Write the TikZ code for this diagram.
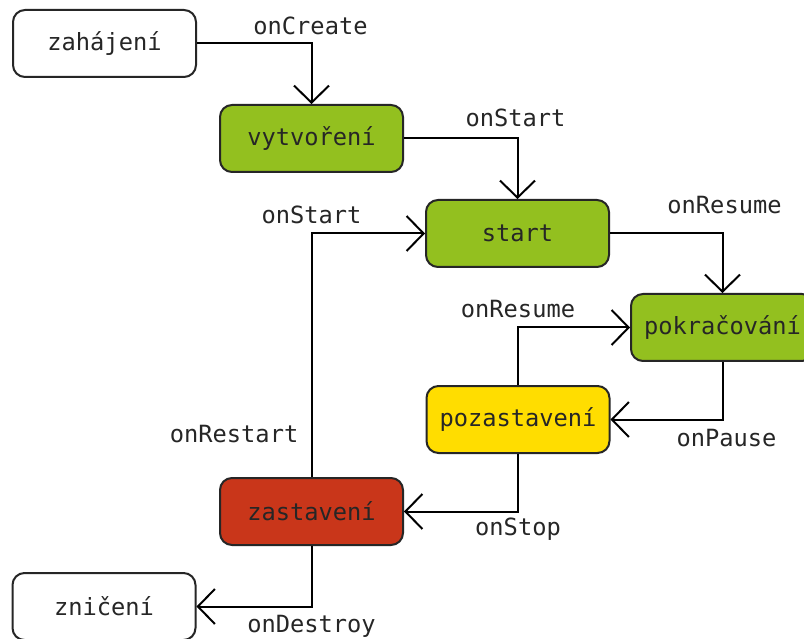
\documentclass[tikz,border=0pt]{standalone}
\usepackage{fontspec}
\setmonofont{DejaVu Sans Mono}
\usetikzlibrary{arrows.meta}

\definecolor{stategreen}{RGB}{147,192,31}
\definecolor{stateyellow}{RGB}{255,221,0}
\definecolor{statered}{RGB}{201,54,26}
\definecolor{edgegray}{RGB}{38,38,38}

\tikzset{
  state/.style={draw=edgegray, line width=2pt, rounded corners=12pt,
    minimum width=183pt, minimum height=67pt, inner sep=0pt,
    text=edgegray, font=\ttfamily\fontsize{23.7}{28}\selectfont},
  lbl/.style={anchor=base, inner sep=0pt, text=edgegray,
    font=\ttfamily\fontsize{23.7}{28}\selectfont},
  trans/.style={line width=2pt, draw=black,
    -{Straight Barb[length=17pt, width=35pt, line width=2pt]}},
}

\begin{document}
\begin{tikzpicture}[x=1pt, y=-1pt]
  \clip (0,0) rectangle (804,639);
  \fill[white] (0,0) rectangle (804,639);

  % lifecycle states
  \node[state, fill=white]        (zah) at (104.5,43.5)  {zahájení};
  \node[state, fill=stategreen]   (vyt) at (311.5,138.5) {vytvoření};
  \node[state, fill=stategreen]   (sta) at (517.5,233.5) {start};
  \node[state, fill=stategreen]   (pok) at (722.5,327.5) {pokračování};
  \node[state, fill=stateyellow]  (poz) at (518,419.5)   {pozastavení};
  \node[state, fill=statered]     (zas) at (311.5,511.5) {zastavení};
  \node[state, fill=white]        (zni) at (104,606.5)   {zničení};

  % transitions
  \draw[trans] (zah.east) -| (vyt.north)
    node[lbl, pos=0.5, yshift=9pt, xshift=-1pt] {onCreate};
  \draw[trans] (vyt.east) -| (sta.north)
    node[lbl, pos=0.5, yshift=12pt, xshift=-2pt] {onStart};
  \draw[trans] (sta.east) -| (pok.north)
    node[lbl, pos=0.5, yshift=20pt, xshift=2pt] {onResume};
  \draw[trans] (pok.south) |- (poz.east)
    node[lbl, pos=0.5, yshift=-27pt, xshift=4pt] {onPause};
  \draw[trans] (poz.north) |- (pok.west)
    node[lbl, pos=0.5, yshift=10pt] {onResume};
  \draw[trans] (poz.south) |- (zas.east)
    node[lbl, pos=0.5, yshift=-24pt] {onStop};
  \draw[trans] (zas.north) |- (sta.west)
    node[lbl, pos=0.5, yshift=10pt] {onStart};
  \node[lbl, anchor=base east] (rst) at ([xshift=-13pt, yshift=35pt]zas.north) {onRestart};
  \draw[trans] (zas.south) |- (zni.east)
    node[lbl, pos=0.5, yshift=-26pt] {onDestroy};
\end{tikzpicture}
\end{document}
